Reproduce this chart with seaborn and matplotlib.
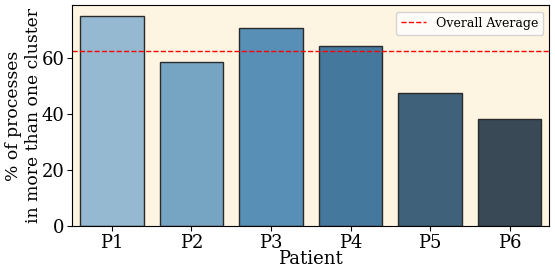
import pandas as pd
import seaborn as sns
import matplotlib.pyplot as plt

# Dados
patients = ['P1', 'P2', 'P3', 'P4', 'P5', 'P6']
percent = [75.1, 58.6, 70.8, 64.4, 47.4, 38.2]
overall_average = 62.5

df = pd.DataFrame({'Patient': patients, 'pct': percent})

plt.rcParams['font.family'] = 'DejaVu Serif'

fig, ax = plt.subplots(figsize=(5.55, 2.74), dpi=100)
ax.set_facecolor('#fdf5e2')

sns.barplot(x='Patient', y='pct', data=df, hue='Patient', palette='Blues_d',
            legend=False, edgecolor='#2a2a2a', linewidth=1, ax=ax)

ax.axhline(overall_average, color='red', linestyle='--', linewidth=1,
           label='Overall Average')
ax.legend(loc='upper right', fontsize=9)

ax.set_xlabel('Patient', fontsize=13, labelpad=-1)
ax.set_ylabel('% of processes\nin more than one cluster', fontsize=12.3, labelpad=0)
ax.tick_params(labelsize=13, pad=2)
ax.set_yticks([0, 20, 40, 60])

plt.subplots_adjust(left=0.13, right=0.99, top=0.98, bottom=0.175)
plt.savefig('out.png')
